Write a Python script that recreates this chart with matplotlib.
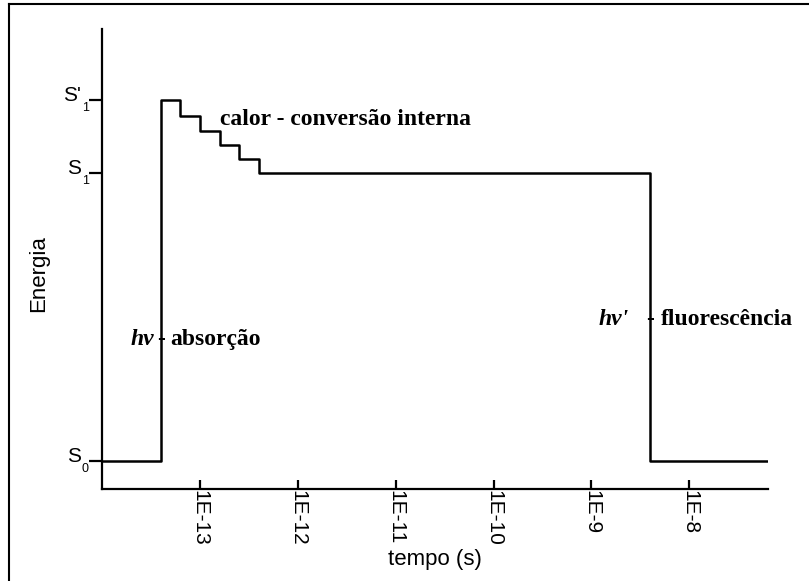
import matplotlib
matplotlib.use("Agg")
import matplotlib.pyplot as plt
from matplotlib.lines import Line2D

# time (s) and energy (S0 = 0, S1 = 1)
tempo = [1.0e-14, 4.0e-14, 6.3e-14, 1.0e-13, 1.6e-13, 2.5e-13, 4.0e-13, 4.0e-9, 6.3e-8]
energia = [0.0, 1.254, 1.198, 1.146, 1.097, 1.049, 1.0, 0.0, 0.0]

niveis = [0.0, 1.0, 1.254]
nomes = ["S", "S", "S'"]
indices = ["0", "1", "1"]

xticks = [1e-13, 1e-12, 1e-11, 1e-10, 1e-9, 1e-8]
xticklabels = ["1E-13", "1E-12", "1E-11", "1E-10", "1E-9", "1E-8"]

sans = ["Liberation Sans", "DejaVu Sans"]
serif = ["Liberation Serif", "DejaVu Serif"]

fig = plt.figure(figsize=(8.09, 5.81), dpi=100)
ax = fig.add_axes([101.7 / 809, 92 / 581, 666 / 809, 460 / 581])

ax.plot(tempo, energia, drawstyle="steps-post", color="black", lw=1.8)
ax.set_xscale("log")
ax.set_xlim(1e-14, 6.3e-8)
ax.set_ylim(-0.0984, 1.5005)

for s in ["top", "right"]:
    ax.spines[s].set_visible(False)
for s in ["left", "bottom"]:
    ax.spines[s].set_linewidth(1.6)

ax.xaxis.set_minor_locator(matplotlib.ticker.NullLocator())
ax.set_xticks(xticks)
ax.set_xticklabels(xticklabels, rotation=270, family=sans, fontsize=15,
                   va="top", ha="center")
ax.tick_params(axis="x", direction="in", length=6.5, width=1.6, pad=1)
ax.set_yticks(niveis)
ax.set_yticklabels([])
ax.tick_params(axis="y", direction="out", length=9.4, width=1.6)

# S labels with subscripts
for nivel, nome, idx in zip(niveis, nomes, indices):
    ax.annotate(nome, xy=(0, nivel), xycoords=("axes fraction", "data"),
                xytext=(-21, -1), textcoords="offset pixels",
                ha="right", va="baseline", family=sans, fontsize=15)
    ax.annotate(idx, xy=(0, nivel), xycoords=("axes fraction", "data"),
                xytext=(-20, -2), textcoords="offset pixels",
                ha="left", va="top", family=sans, fontsize=9)

# annotations
ax.text(1.62e-13, 1.167, "calor - conversão interna", family=serif,
        fontweight="bold", fontsize=17, ha="left", va="baseline")

ax.text(3.4e-14, 0.402, "hν", family=serif, fontweight="bold", fontstyle="italic",
        fontsize=17, ha="right", va="baseline")
ax.text(4.0e-14, 0.402, "-", family=serif, fontweight="bold",
        fontsize=17, ha="center", va="baseline")
ax.text(5.0e-14, 0.402, "absorção", family=serif, fontweight="bold",
        fontsize=17, ha="left", va="baseline")

ax.text(2.43e-9, 0.472, "hν'", family=serif, fontweight="bold", fontstyle="italic",
        fontsize=17, ha="right", va="baseline")
ax.text(4.0e-9, 0.472, "-", family=serif, fontweight="bold",
        fontsize=17, ha="center", va="baseline")
ax.text(5.1e-9, 0.472, "fluorescência", family=serif, fontweight="bold",
        fontsize=17, ha="left", va="baseline")

fig.text(435 / 809, 1 - 559 / 581, "tempo (s)", family=sans, fontsize=16,
         ha="center", va="center")
fig.text(39 / 809, 1 - 274 / 581, "Energia", family=sans, fontsize=16,
         rotation=90, ha="center", va="center")

# outer frame (left and top edges only visible)
fig.add_artist(Line2D([9 / 809, 9 / 809], [0, 1 - 4 / 581], color="black", lw=1.5))
fig.add_artist(Line2D([9 / 809, 1], [1 - 4 / 581, 1 - 4 / 581], color="black", lw=1.5))

fig.savefig("out.png", dpi=100)
